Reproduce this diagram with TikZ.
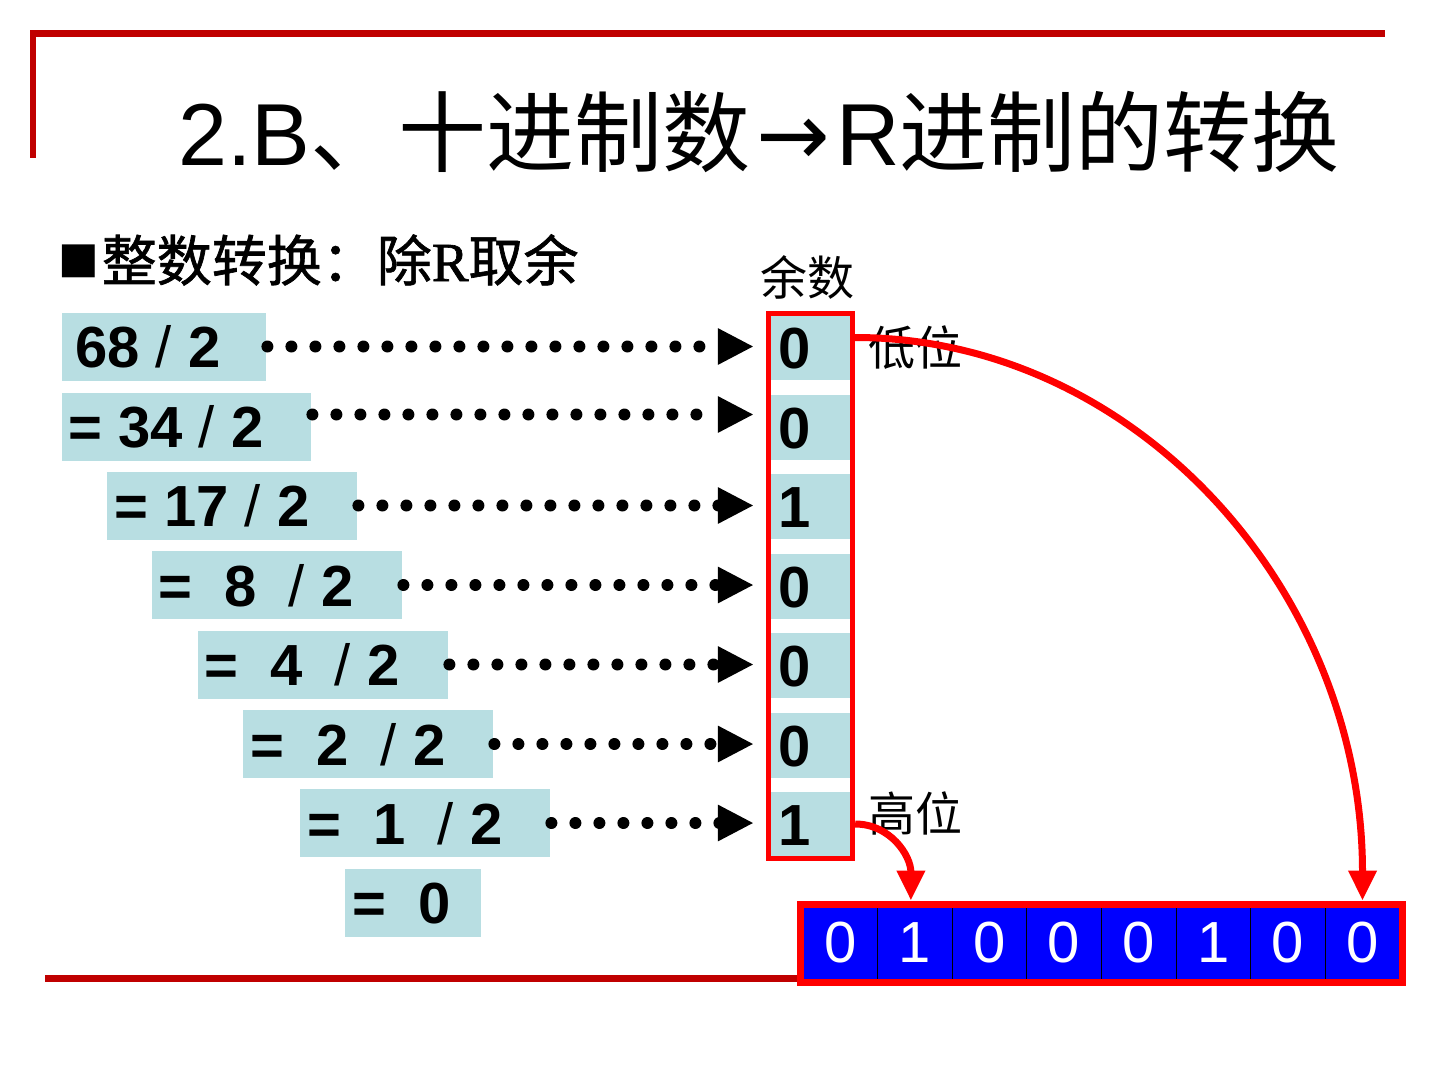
\documentclass[tikz,border=0pt]{standalone}
\usepackage{fontspec}
\setmainfont{Liberation Sans}
\newfontfamily\cjk{Noto Sans CJK SC}
\newfontfamily\cjkm[FakeBold=1.2]{Noto Sans CJK SC}
\newfontfamily\serifR[FakeBold=1.2]{Liberation Serif}
\newfontfamily\dejavu{DejaVu Sans}
\usetikzlibrary{arrows.meta,fit,calc}
\definecolor{lineRed}{RGB}{192,0,0}
\definecolor{boxBlue}{RGB}{184,222,226}
\definecolor{cellBlue}{RGB}{0,0,255}
\newcommand{\thinslash}{{\mdseries /}}
\begin{document}
\begin{tikzpicture}[x=1pt,y=-1pt,
  lbox/.style={fill=boxBlue, inner sep=0pt, minimum height=68pt, anchor=west},
  ltext/.style={font=\fontsize{58}{60}\selectfont\bfseries, inner sep=0pt, anchor=base west},
  rcell/.style={fill=boxBlue, inner sep=0pt, minimum width=81pt, minimum height=65pt},
  bcell/.style={fill=cellBlue, draw=black, line width=1pt, inner sep=0pt, minimum width=74.6pt, minimum height=72pt, text=white, font=\fontsize{58}{60}\selectfont},
  cjklabel/.style={font=\fontsize{47}{50}\selectfont\cjk, inner sep=0pt, anchor=base west},
  dotarrow/.style={line width=12pt, dash pattern=on 0pt off 24pt, line cap=round, shorten >=16pt, -{Triangle[length=36pt,width=34pt]}},
  redarrow/.style={red, line width=7pt, -{Triangle[length=30pt,width=27pt]}}
]
\useasboundingbox (0,0) rectangle (1440,1080);
\fill[white] (0,0) rectangle (1440,1080);

% decorative frame lines
\coordinate (tl) at (30,33);
\coordinate (tr) at (1385,33);
\coordinate (vl) at (33,30);
\coordinate (vb) at (33,158);
\draw[lineRed, line width=7pt] (tl) -- (tr);
\draw[lineRed, line width=6pt] (vl) -- (vb);

% title
\node[font=\fontsize{88}{100}\selectfont, inner sep=0pt, anchor=base west] (title) at (178,165)
  {2.B{\cjk 、十进制数}\hspace{6pt}{\dejavu →}\hspace{6pt}R{\cjk 进制的转换}};

% subtitle
\node[font=\fontsize{55}{60}\selectfont, inner sep=0pt, anchor=base west] (sub) at (58,281)
  {\raisebox{9pt}{\fontsize{43}{45}\selectfont\dejavu ■}\hspace{3pt}{\cjkm 整数转换：除}{\serifR R}{\cjkm 取余}};

% left boxes
\node[lbox, minimum width=204pt] (b1) at (62,346.5) {};
\node[lbox, minimum width=249pt] (b2) at (62,426.5) {};
\node[lbox, minimum width=250pt] (b3) at (107,505.5) {};
\node[lbox, minimum width=250pt] (b4) at (152,585) {};
\node[lbox, minimum width=250pt] (b5) at (198,664.5) {};
\node[lbox, minimum width=250pt] (b6) at (243,744) {};
\node[lbox, minimum width=250pt] (b7) at (300,823) {};
\node[lbox, minimum width=136pt] (b8) at (345,902.5) {};

\node[ltext] (t1) at (75,367.5) {68 \thinslash{} 2};
\node[ltext] (t2) at (68,447.5) {= 34 \thinslash{} 2};
\node[ltext] (t3) at (114,526.5) {= 17 \thinslash{} 2};
\node[ltext] (t4) at (158,606) {=\ \ 8\ \ \thinslash{} 2};
\node[ltext] (t5) at (204,685.5) {=\ \ 4\ \ \thinslash{} 2};
\node[ltext] (t6) at (250,765) {=\ \ 2\ \ \thinslash{} 2};
\node[ltext] (t7) at (307,844) {=\ \ 1\ \ \thinslash{} 2};
\node[ltext] (t8) at (352,923.5) {=\ \ 0};

% remainder column
\node[rcell] (c1) at (810.5,347.5) {};
\node[rcell] (c2) at (810.5,427.5) {};
\node[rcell] (c3) at (810.5,506.5) {};
\node[rcell] (c4) at (810.5,586) {};
\node[rcell] (c5) at (810.5,665.5) {};
\node[rcell] (c6) at (810.5,745) {};
\node[rcell] (c7) at (810.5,824) {};
\node[draw=red, line width=5pt, inner sep=1.5pt, fit=(c1)(c7)] (frame) {};

\node[ltext] (d1) at (778,368.5) {0};
\node[ltext] (d2) at (778,448.5) {0};
\node[ltext] (d3) at (778,527.5) {1};
\node[ltext] (d4) at (778,607) {0};
\node[ltext] (d5) at (778,686.5) {0};
\node[ltext] (d6) at (778,766) {0};
\node[ltext] (d7) at (778,845) {1};

\node[cjklabel] (yushu) at (760,295) {余数};
\node[cjklabel] (low) at (868,365) {低位};
\node[cjklabel] (high) at (868,831) {高位};

% dotted arrows
\coordinate (s1) at ($(b1.east)+(1,0)$);
\coordinate (s2) at ($(b2.east)+(1,-12)$);
\coordinate (s3) at ($(b3.east)+(1,0)$);
\coordinate (s4) at ($(b4.east)+(1,0)$);
\coordinate (s5) at ($(b5.east)+(1,0)$);
\coordinate (s6) at ($(b6.east)+(1,0)$);
\coordinate (s7) at ($(b7.east)+(1,0)$);
\draw[dotarrow] (s1) -- (s1 -| c1.west);
\draw[dotarrow] (s2) -- (s2 -| c2.west);
\draw[dotarrow] (s3) -- (s3 -| c3.west);
\draw[dotarrow] (s4) -- (s4 -| c4.west);
\draw[dotarrow] (s5) -- (s5 -| c5.west);
\draw[dotarrow] (s6) -- (s6 -| c6.west);
\draw[dotarrow] (s7) -- (s7 -| c7.west);

% binary result
\node[bcell] (e1) at (840.3,943) {0};
\node[bcell] (e2) at (914.9,943) {1};
\node[bcell] (e3) at (989.5,943) {0};
\node[bcell] (e4) at (1064.1,943) {0};
\node[bcell] (e5) at (1138.7,943) {0};
\node[bcell] (e6) at (1213.3,943) {1};
\node[bcell] (e7) at (1287.9,943) {0};
\node[bcell] (e8) at (1362.5,943) {0};
\node[draw=red, line width=7pt, inner sep=2.5pt, fit=(e1)(e8)] (bframe) {};

% bottom line
\coordinate (bl) at (45,978);
\draw[lineRed, line width=7pt] (bl) -- (bl -| bframe.west);

% red curved arrows
\coordinate (lowstart) at ($(frame.east |- c1.center)+(0,-10)$);
\draw[redarrow] (lowstart) .. controls +(279,0) and +(0,-311) .. (bframe.north -| e8.center);
\draw[redarrow] (frame.east |- c7.center) .. controls +(35,0) and +(0,-45) .. ($(bframe.north -| e2.center)+(-4,0)$);
\end{tikzpicture}
\end{document}
